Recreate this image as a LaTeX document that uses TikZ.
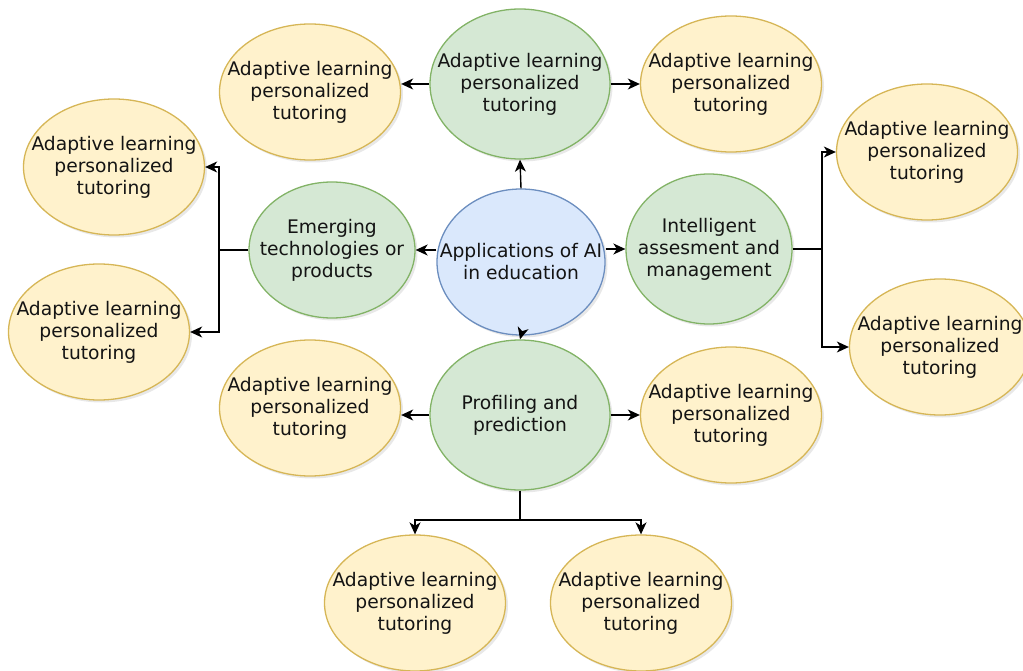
\documentclass[tikz,border=0pt]{standalone}
\usepackage{fontspec}
\setmainfont{DejaVu Sans}
\usetikzlibrary{shapes.geometric,arrows.meta,shadows}
\definecolor{bluefill}{HTML}{DAE8FC}
\definecolor{bluedraw}{HTML}{6C8EBF}
\definecolor{greenfill}{HTML}{D5E8D4}
\definecolor{greendraw}{HTML}{82B366}
\definecolor{yellowfill}{HTML}{FFF2CC}
\definecolor{yellowdraw}{HTML}{D6B656}
\tikzset{
  bubble/.style={ellipse, inner sep=0pt, line width=1.3pt,
    drop shadow={opacity=0.18, shadow xshift=2.5pt, shadow yshift=-2.5pt}},
  txt/.style={align=center, inner sep=0pt, font=\fontsize{18.7}{22}\selectfont, text=black!92},
  bluebub/.style={bubble, fill=bluefill, draw=bluedraw, minimum width=168pt, minimum height=146pt},
  greenbub/.style={bubble, fill=greenfill, draw=greendraw, minimum width=180pt, minimum height=150pt},
  greensm/.style={bubble, fill=greenfill, draw=greendraw, minimum width=166pt, minimum height=138pt},
  yellowbub/.style={bubble, fill=yellowfill, draw=yellowdraw, minimum width=181pt, minimum height=136pt},
  arr/.style={line width=1.4pt, draw=black, -{Stealth[length=12pt,width=11pt,inset=3.5pt]}},
  ln/.style={line width=1.4pt, draw=black},
}
\newcommand{\alp}{Adaptive learning\\personalized\\tutoring}
\begin{document}
\begin{tikzpicture}[x=1pt,y=-1pt]
\useasboundingbox (0,0) rectangle (1023,671);
% central
\node[bluebub] (blue) at (521,262) {};
\node[txt] (blueT) at (blue) {Applications of AI\\in education};
% second level
\node[greenbub] (topg) at (520,84) {};
\node[txt] (topgT) at (topg) {\alp};
\node[greensm, minimum height=136pt] (emerg) at (332,250) {};
\node[txt] (emergT) at (emerg) {Emerging\\technologies or\\products};
\node[greensm, minimum height=150pt] (intel) at (709,249) {};
\node[txt] (intelT) at (intel) {Intelligent\\assesment and\\management};
\node[greenbub] (prof) at (520,415) {};
\node[txt] (profT) at (prof) {Profiling and\\prediction};
% leaves
\node[yellowbub] (tly) at (310,92) {};
\node[txt] (tlyT) at (tly) {\alp};
\node[yellowbub] (try) at (731,84) {};
\node[txt] (tryT) at (try) {\alp};
\node[yellowbub] (ly1) at (114,167) {};
\node[txt] (ly1T) at (ly1) {\alp};
\node[yellowbub] (ly2) at (99,332) {};
\node[txt] (ly2T) at (ly2) {\alp};
\node[yellowbub] (ry1) at (927,152) {};
\node[txt] (ry1T) at (ry1) {\alp};
\node[yellowbub] (ry2) at (940,347) {};
\node[txt] (ry2T) at (ry2) {\alp};
\node[yellowbub] (bly) at (310,408) {};
\node[txt] (blyT) at (bly) {\alp};
\node[yellowbub] (bry) at (731,415) {};
\node[txt] (bryT) at (bry) {\alp};
\node[yellowbub] (by1) at (415,603) {};
\node[txt] (by1T) at (by1) {\alp};
\node[yellowbub] (by2) at (641,603) {};
\node[txt] (by2T) at (by2) {\alp};
% junction coordinates
\coordinate (jl) at (219,250);
\coordinate (jr) at (822,249);
\coordinate (jb) at (520,520);
% connectors from center
\draw[arr] (blue.north) -- (topg.south);
\draw[arr] (blue.south) -- (prof.north);
\draw[arr] (blue.west |- emerg.east) -- (emerg.east);
\draw[arr] (blue.east |- intel.west) -- (intel.west);
% top
\draw[arr] (topg.west) -- (topg.west -| tly.east);
\draw[arr] (topg.east) -- (topg.east -| try.west);
% bottom-level sides
\draw[arr] (prof.west) -- (prof.west -| bly.east);
\draw[arr] (prof.east) -- (prof.east -| bry.west);
% left tree
\draw[ln] (emerg.west) -- (jl);
\draw[arr] (jl) |- (ly1.east);
\draw[arr] (jl) |- (ly2.east);
% right tree
\draw[ln] (intel.east) -- (jr);
\draw[arr] (jr) |- (ry1.west);
\draw[arr] (jr) |- (ry2.west);
% bottom tree
\draw[ln] (prof.south) -- (jb);
\draw[arr] (jb) -| (by1.north);
\draw[arr] (jb) -| (by2.north);
\end{tikzpicture}
\end{document}
